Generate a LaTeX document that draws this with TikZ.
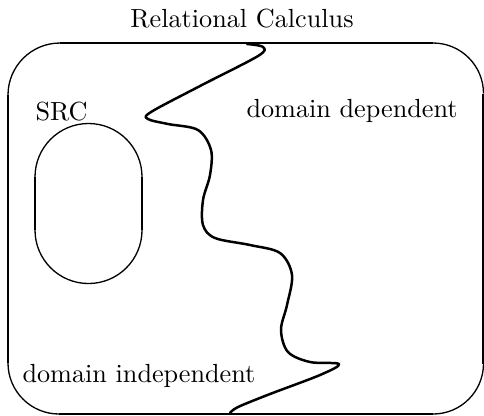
\documentclass[tikz,border=0pt]{standalone}
\begin{document}
\begin{tikzpicture}[x=0.3818pt,y=-0.3818pt,
  thickline/.style={line width=1pt, line cap=butt},
  thinline/.style={line width=0.5pt},
  wave/.style={line width=0.95pt, line cap=round, line join=round},
  lbl/.style={inner sep=0pt, anchor=base west}]
\useasboundingbox (0,0) rectangle (484,415);
% outer rounded rectangle
\draw[thickline] (60,43) -- (433,43);
\draw[thickline] (8,95) -- (8,363);
\draw[thickline] (59,414) -- (433,414);
\draw[thickline] (483.5,93.5) -- (483.5,363.5);
\draw[thinline] (8,95) arc[start angle=180, end angle=90, radius=19.85pt];
\draw[thinline] (433,43) arc[start angle=90, end angle=0, radius=19.28pt];
\draw[thinline] (8,363) arc[start angle=180, end angle=270, radius=19.47pt];
\draw[thinline] (433,414) arc[start angle=270, end angle=360, radius=19.28pt];
% SRC oval
\draw[thickline] (35,177) -- (35,230);
\draw[thickline] (142,177) -- (142,230);
\draw[thinline] (35,177) arc[start angle=180, end angle=0, radius=20.43pt];
\draw[thinline] (35,230) arc[start angle=180, end angle=360, radius=20.43pt];
% wavy border
\draw[wave] plot[smooth, tension=0.55] coordinates {
  (247,44) (263,47) (258,56) (200,86) (151,112) (148,119) (168,124) (198,130)
  (211,150) (210,175) (203,200) (203,225) (215,238) (250,245) (280,253)
  (292,275) (287,305) (281,330) (288,352) (310,362) (339,364) (320,375)
  (270,394) (238,407) (230,413)};
% labels
\node[inner sep=0pt, anchor=base] (title) at (242,27) {Relational Calculus};
\node[lbl] (src) at (35,120) {SRC};
\node[lbl] (dd) at (246,117) {domain dependent};
\node[lbl] (di) at (22,382) {domain independent};
\end{tikzpicture}
\end{document}
